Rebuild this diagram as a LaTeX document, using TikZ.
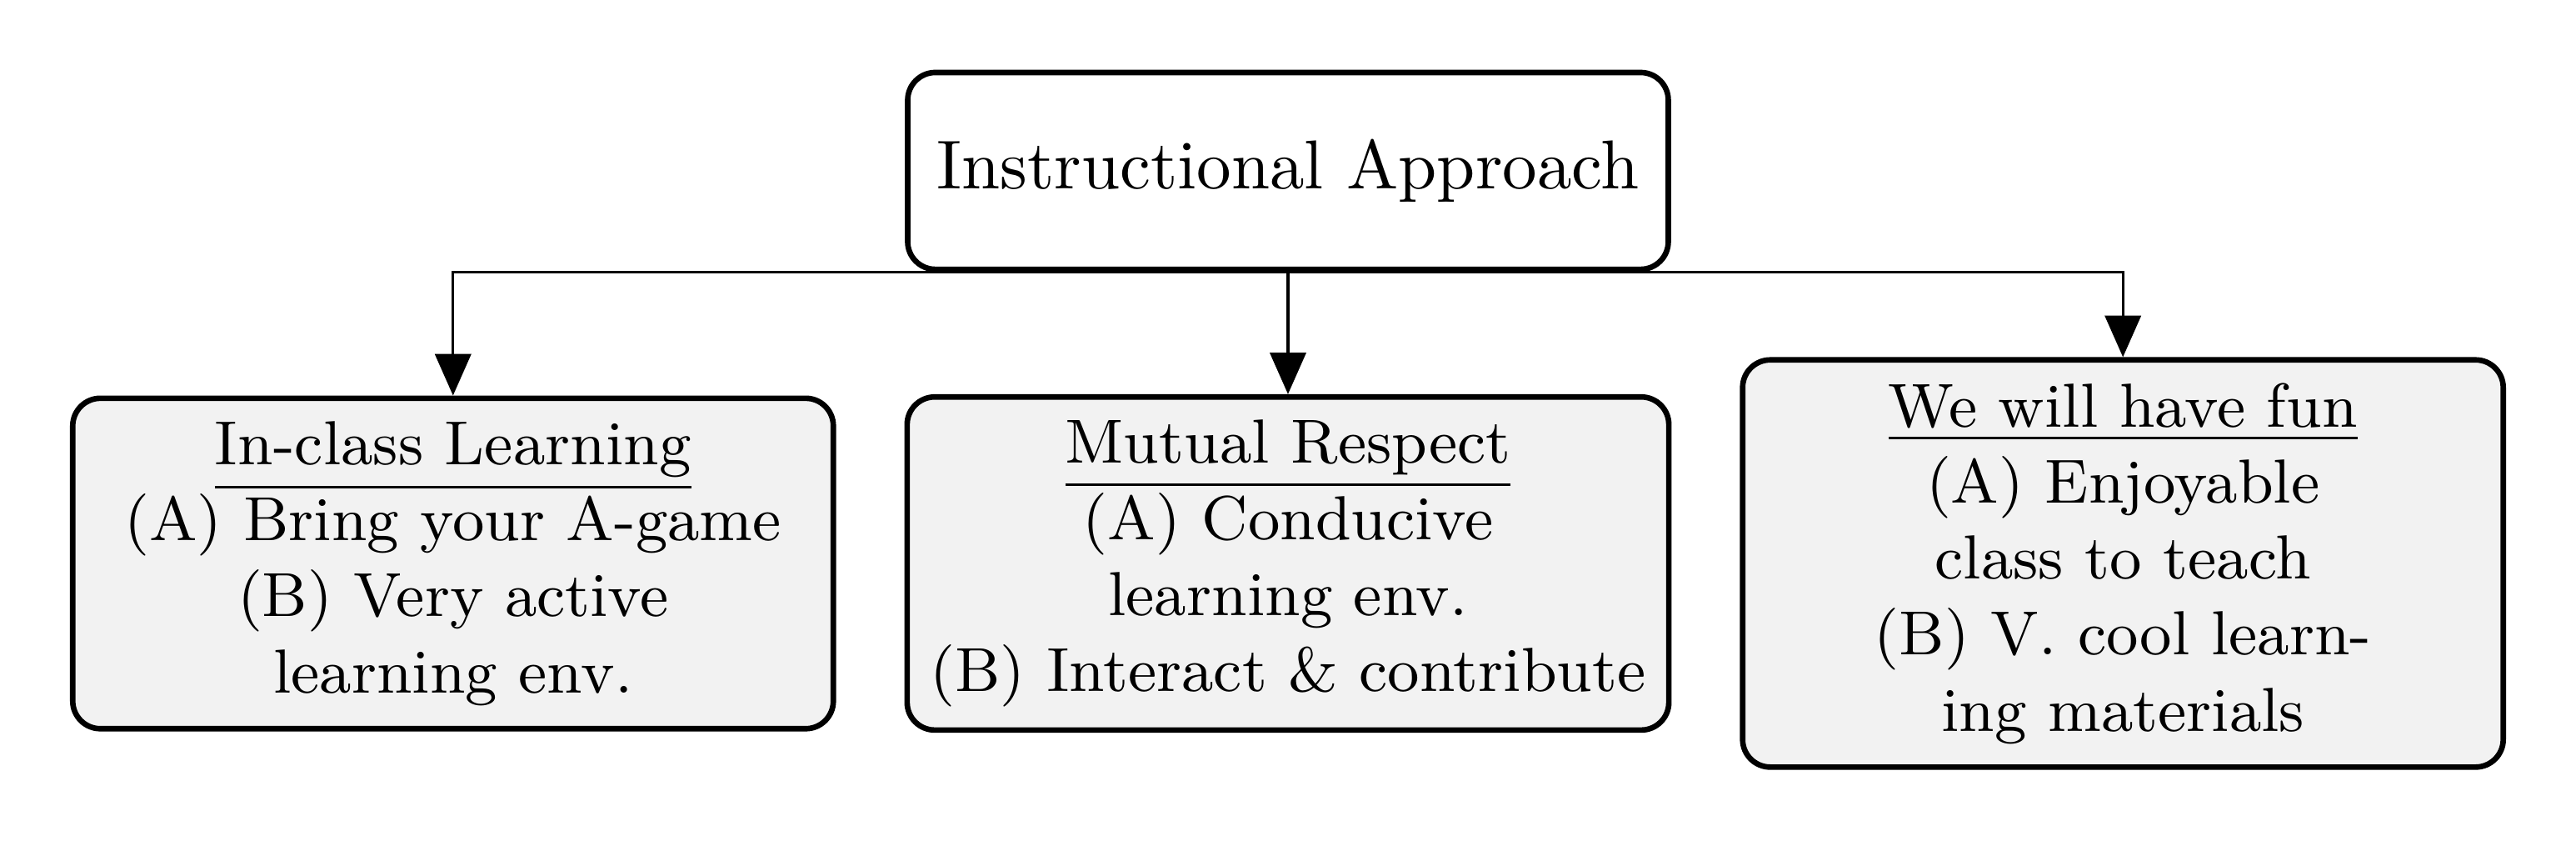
\documentclass[tikz,border=0pt]{standalone}
\usetikzlibrary{arrows.meta}
\begin{document}
\begin{tikzpicture}[x=1pt,y=1pt,
  box/.style={draw, thick, rounded corners=4pt, minimum width=110pt, align=center},
  rootbox/.style={box, fill=white, minimum height=1cm, font=\normalsize},
  childbox/.style={box, fill=gray!10, font=\small},
  link/.style={-{Triangle[length=6pt,width=5.2pt]}}]
\useasboundingbox (-186.27,-96.75) rectangle (186.27,24.70);
\node[rootbox] (root) at (0,0) {Instructional Approach};
\node[childbox] (c1) at (-120.75,-56.75) {\underline{In-class Learning}\\(A) Bring your A-game\\(B) Very active\\learning env.};
\node[childbox] (c2) at (0,-56.75) {\underline{Mutual Respect}\\(A) Conducive\\learning env.\\(B) Interact \& contribute};
\node[childbox] (c3) at (120.75,-56.75) {\underline{We will have fun}\\(A) Enjoyable\\class to teach\\(B) V. cool learn-\\ing materials};
\draw[link] (root.south) -| (c1.north);
\draw[link] (root.south) -- (c2.north);
\draw[link] (root.south) -| (c3.north);
\end{tikzpicture}
\end{document}
